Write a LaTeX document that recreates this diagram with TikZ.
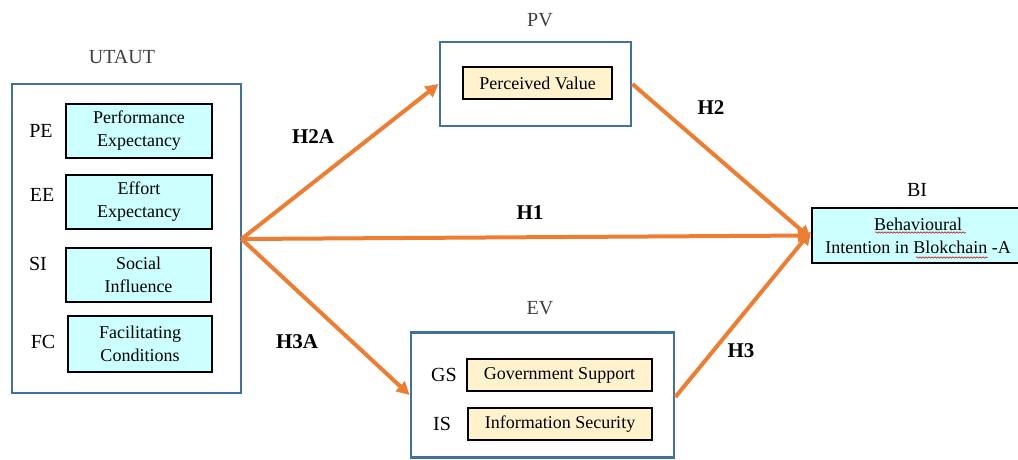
\documentclass[tikz,border=0pt]{standalone}
\usepackage{fontspec}
\setmainfont{Liberation Serif}
\usetikzlibrary{arrows.meta,decorations.pathmorphing}

\definecolor{frameblue}{HTML}{41719C}
\definecolor{pathorange}{HTML}{ED7D31}
\definecolor{boxcyan}{HTML}{CCFFFF}
\definecolor{boxcream}{HTML}{FFF2CC}
\definecolor{capgray}{HTML}{404040}

\tikzset{
  group/.style={draw=frameblue, line width=2.8pt, fill=white, inner sep=0pt},
  construct/.style={draw=black, line width=2.2pt, inner sep=0pt, align=center,
    font=\fontsize{18}{23}\selectfont},
  cyanbox/.style={construct, fill=boxcyan},
  creambox/.style={construct, fill=boxcream},
  grouptitle/.style={font=\fontsize{20}{24}\selectfont, text=capgray, inner sep=0pt},
  abbrev/.style={font=\fontsize{20}{24}\selectfont, inner sep=0pt},
  hyp/.style={font=\bfseries\fontsize{21}{24}\selectfont, inner sep=0pt},
  path arrow/.style={draw=pathorange, line width=4pt,
    -{Triangle[length=13pt,width=13pt]}},
  spellmark/.style={draw=red!80!black, line width=0.5pt,
    decorate, decoration={snake, amplitude=0.8pt, segment length=3pt}}
}

\begin{document}
\begin{tikzpicture}[x=1pt, y=-1pt]
  \useasboundingbox (0,0) rectangle (1018,460);

  % UTAUT group
  \node[grouptitle] (utautT) at (122,57) {UTAUT};
  \node[group, minimum width=229pt, minimum height=309pt] (utaut) at (126.5,238.5) {};
  \node[cyanbox, minimum width=146pt, minimum height=54pt] (pe) at (139,131) {Performance\\Expectancy};
  \node[cyanbox, minimum width=146pt, minimum height=54pt] (ee) at (139,202) {Effort\\Expectancy};
  \node[cyanbox, minimum width=145pt, minimum height=54pt] (si) at (138.5,275) {Social\\Influence};
  \node[cyanbox, minimum width=144pt, minimum height=56pt] (fc) at (140,344) {Facilitating\\Conditions};
  \node[abbrev] (peL) at (41,131) {PE};
  \node[abbrev] (eeL) at (42,195) {EE};
  \node[abbrev] (siL) at (38,264) {SI};
  \node[abbrev] (fcL) at (43,342) {FC};

  % PV group
  \node[grouptitle] (pvT) at (540,20) {PV};
  \node[group, minimum width=191pt, minimum height=84pt] (pv) at (535.5,84) {};
  \node[creambox, minimum width=149pt, minimum height=32pt] (perv) at (537.5,83) {Perceived Value};

  % EV group
  \node[grouptitle] (evT) at (540,308) {EV};
  \node[group, minimum width=263pt, minimum height=125pt] (ev) at (542.5,395) {};
  \node[creambox, minimum width=185pt, minimum height=32pt] (gs) at (559.5,375) {Government Support};
  \node[creambox, minimum width=184pt, minimum height=32pt] (is) at (560,424) {Information Security};
  \node[abbrev] (gsL) at (444,375) {GS};
  \node[abbrev] (isL) at (442,424) {IS};

  % BI
  \node[abbrev] (biT) at (917,190) {BI};
  \node[cyanbox, minimum width=212pt, minimum height=55pt] (bi) at (918,235.5) {Behavioural\\Intention in Blokchain -A};
  \draw[spellmark] (875,232.5) -- (966,232.5);
  \draw[spellmark] (916,257.5) -- (988,257.5);

  % hypothesised paths
  \coordinate (src) at (241.5,239);
  \path[path arrow] (src) -- (pv.west);
  \path[path arrow] (src) -- (bi.west);
  \path[path arrow] (src) -- (ev.west);
  \path[path arrow] (pv.east) -- ([yshift=-3pt]bi.west);
  \path[path arrow] ([yshift=-2pt]ev.east) -- ([yshift=4pt]bi.west);

  % path labels
  \node[hyp] (h2a) at (313,137) {H2A};
  \node[hyp] (h2) at (711,108) {H2};
  \node[hyp] (h1) at (530,213) {H1};
  \node[hyp] (h3a) at (297,342) {H3A};
  \node[hyp] (h3) at (741,351) {H3};
\end{tikzpicture}
\end{document}
